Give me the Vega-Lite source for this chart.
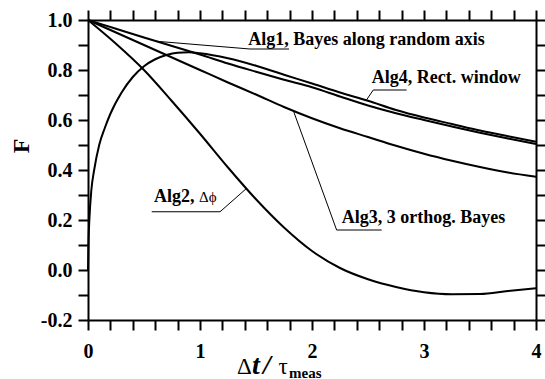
{
  "$schema": "https://vega.github.io/schema/vega-lite/v6.json",
  "width": 448,
  "height": 300,
  "autosize": {"type": "none"},
  "padding": {"left": 88, "top": 20, "right": 9, "bottom": 59},
  "background": "white",
  "config": {"view": {"stroke": null}, "font": "Liberation Serif"},
  "datasets": {
    "curves": [
      {"alg": "Alg1", "x": 0, "y": 1.0}, {"alg": "Alg1", "x": 0.25, "y": 0.965}, {"alg": "Alg1", "x": 0.5, "y": 0.93}, {"alg": "Alg1", "x": 0.75, "y": 0.896}, {"alg": "Alg1", "x": 1.0, "y": 0.862}, {"alg": "Alg1", "x": 1.25, "y": 0.826}, {"alg": "Alg1", "x": 1.5, "y": 0.793}, {"alg": "Alg1", "x": 1.75, "y": 0.761}, {"alg": "Alg1", "x": 2.0, "y": 0.731}, {"alg": "Alg1", "x": 2.25, "y": 0.694}, {"alg": "Alg1", "x": 2.5, "y": 0.658}, {"alg": "Alg1", "x": 2.75, "y": 0.627}, {"alg": "Alg1", "x": 3.0, "y": 0.6}, {"alg": "Alg1", "x": 3.25, "y": 0.574}, {"alg": "Alg1", "x": 3.5, "y": 0.549}, {"alg": "Alg1", "x": 3.75, "y": 0.526}, {"alg": "Alg1", "x": 4.0, "y": 0.504},
      {"alg": "Alg4", "x": 0, "y": 0.0}, {"alg": "Alg4", "x": 0.005, "y": 0.12}, {"alg": "Alg4", "x": 0.012, "y": 0.2}, {"alg": "Alg4", "x": 0.03, "y": 0.32}, {"alg": "Alg4", "x": 0.055, "y": 0.4}, {"alg": "Alg4", "x": 0.1, "y": 0.5}, {"alg": "Alg4", "x": 0.15, "y": 0.568}, {"alg": "Alg4", "x": 0.2, "y": 0.625}, {"alg": "Alg4", "x": 0.3, "y": 0.71}, {"alg": "Alg4", "x": 0.4, "y": 0.772}, {"alg": "Alg4", "x": 0.5, "y": 0.815}, {"alg": "Alg4", "x": 0.6, "y": 0.843}, {"alg": "Alg4", "x": 0.7, "y": 0.86}, {"alg": "Alg4", "x": 0.8, "y": 0.869}, {"alg": "Alg4", "x": 0.9, "y": 0.871}, {"alg": "Alg4", "x": 1.0, "y": 0.867}, {"alg": "Alg4", "x": 1.25, "y": 0.847}, {"alg": "Alg4", "x": 1.5, "y": 0.817}, {"alg": "Alg4", "x": 1.75, "y": 0.781}, {"alg": "Alg4", "x": 2.0, "y": 0.746}, {"alg": "Alg4", "x": 2.25, "y": 0.71}, {"alg": "Alg4", "x": 2.5, "y": 0.677}, {"alg": "Alg4", "x": 2.75, "y": 0.64}, {"alg": "Alg4", "x": 3.0, "y": 0.61}, {"alg": "Alg4", "x": 3.25, "y": 0.584}, {"alg": "Alg4", "x": 3.5, "y": 0.558}, {"alg": "Alg4", "x": 3.75, "y": 0.535}, {"alg": "Alg4", "x": 4.0, "y": 0.513},
      {"alg": "Alg3", "x": 0, "y": 1.0}, {"alg": "Alg3", "x": 0.25, "y": 0.95}, {"alg": "Alg3", "x": 0.5, "y": 0.9}, {"alg": "Alg3", "x": 0.75, "y": 0.85}, {"alg": "Alg3", "x": 1.0, "y": 0.8}, {"alg": "Alg3", "x": 1.25, "y": 0.75}, {"alg": "Alg3", "x": 1.5, "y": 0.702}, {"alg": "Alg3", "x": 1.75, "y": 0.652}, {"alg": "Alg3", "x": 2.0, "y": 0.607}, {"alg": "Alg3", "x": 2.25, "y": 0.567}, {"alg": "Alg3", "x": 2.5, "y": 0.532}, {"alg": "Alg3", "x": 2.75, "y": 0.497}, {"alg": "Alg3", "x": 3.0, "y": 0.465}, {"alg": "Alg3", "x": 3.25, "y": 0.437}, {"alg": "Alg3", "x": 3.5, "y": 0.412}, {"alg": "Alg3", "x": 3.75, "y": 0.39}, {"alg": "Alg3", "x": 4.0, "y": 0.373},
      {"alg": "Alg2", "x": 0, "y": 1.0}, {"alg": "Alg2", "x": 0.25, "y": 0.905}, {"alg": "Alg2", "x": 0.5, "y": 0.8}, {"alg": "Alg2", "x": 0.75, "y": 0.675}, {"alg": "Alg2", "x": 1.0, "y": 0.545}, {"alg": "Alg2", "x": 1.25, "y": 0.41}, {"alg": "Alg2", "x": 1.5, "y": 0.283}, {"alg": "Alg2", "x": 1.75, "y": 0.17}, {"alg": "Alg2", "x": 2.0, "y": 0.076}, {"alg": "Alg2", "x": 2.25, "y": 0.008}, {"alg": "Alg2", "x": 2.5, "y": -0.037}, {"alg": "Alg2", "x": 2.75, "y": -0.068}, {"alg": "Alg2", "x": 3.0, "y": -0.089}, {"alg": "Alg2", "x": 3.25, "y": -0.097}, {"alg": "Alg2", "x": 3.5, "y": -0.096}, {"alg": "Alg2", "x": 3.75, "y": -0.084}, {"alg": "Alg2", "x": 4.0, "y": -0.073}
    ],
    "leaders": [
      {"seg": "L1", "o": 1, "x": 0.61, "y": 0.915}, {"seg": "L1", "o": 2, "x": 1.446, "y": 0.884}, {"seg": "L1", "o": 3, "x": 1.795, "y": 0.884},
      {"seg": "L4", "o": 1, "x": 2.488, "y": 0.681}, {"seg": "L4", "o": 2, "x": 2.547, "y": 0.72}, {"seg": "L4", "o": 3, "x": 2.845, "y": 0.72},
      {"seg": "L3", "o": 1, "x": 1.833, "y": 0.638}, {"seg": "L3", "o": 2, "x": 2.22, "y": 0.16}, {"seg": "L3", "o": 3, "x": 2.622, "y": 0.16},
      {"seg": "L2", "o": 1, "x": 1.417, "y": 0.327}, {"seg": "L2", "o": 2, "x": 1.179, "y": 0.233}, {"seg": "L2", "o": 3, "x": 0.569, "y": 0.233}
    ],
    "labels": [
      {"t": "Alg1, Bayes along random axis", "x": 1.43, "y": 0.902},
      {"t": "Alg4, Rect. window", "x": 2.533, "y": 0.747},
      {"t": "Alg3, 3 orthog. Bayes", "x": 2.265, "y": 0.187},
      {"t": "Alg2,", "x": 0.589, "y": 0.273}
    ],
    "small": [{"t": "Δϕ", "x": 0.991, "y": 0.273}],
    "titleReg": [{"t": "Δ", "x": 1.33, "y": -0.416}, {"t": "τ", "x": 1.70, "y": -0.416}],
    "titleIt": [{"t": "t", "x": 1.464, "y": -0.416}, {"t": "/", "x": 1.5625, "y": -0.416}],
    "titleSub": [{"t": "meas", "x": 1.795, "y": -0.43}],
    "ytitle": [{"t": "F", "x": -0.589, "y": 0.496}]
  },
  "layer": [
    {
      "data": {"name": "curves"},
      "mark": {"type": "line", "color": "black", "strokeWidth": 2, "interpolate": "monotone"},
      "encoding": {
        "x": {"field": "x", "type": "quantitative", "scale": {"domain": [0, 4], "nice": false, "zero": false},
          "axis": {"orient": "bottom", "title": null, "grid": false,
            "values": [0, 0.2, 0.4, 0.6, 0.8, 1, 1.2, 1.4, 1.6, 1.8, 2, 2.2, 2.4, 2.6, 2.8, 3, 3.2, 3.4, 3.6, 3.8, 4],
            "labelExpr": "datum.value % 1 === 0 ? format(datum.value, 'd') : ''",
            "tickSize": 10,
            "encode": {"ticks": {"update": {"y2": {"signal": "datum.value % 1 === 0 ? 10 : 5"}}}},
            "tickWidth": 2, "tickColor": "black", "domainColor": "black", "domainWidth": 2,
            "labelFont": "Liberation Serif", "labelFontWeight": "bold", "labelFontSize": 20, "labelColor": "black", "labelPadding": 11, "labelFlush": false, "labelOverlap": false}},
        "y": {"field": "y", "type": "quantitative", "scale": {"domain": [-0.2, 1.0], "nice": false, "zero": false},
          "axis": {"orient": "left", "title": null, "grid": false,
            "values": [-0.2, -0.1, 0, 0.1, 0.2, 0.3, 0.4, 0.5, 0.6, 0.7, 0.8, 0.9, 1.0],
            "labelExpr": "abs(round(datum.value * 10)) % 2 === 0 ? replace(format(datum.value, '.1f'), '−', '-') : ''",
            "tickSize": 10,
            "encode": {"ticks": {"update": {"x2": {"signal": "abs(round(datum.value * 10)) % 2 === 0 ? -10 : -5"}}}},
            "tickWidth": 2, "tickColor": "black", "domainColor": "black", "domainWidth": 2,
            "labelFont": "Liberation Serif", "labelFontWeight": "bold", "labelFontSize": 20, "labelColor": "black", "labelPadding": 6, "labelFlush": false, "labelOverlap": false}},
        "detail": {"field": "alg"}
      }
    },
    {
      "data": {"name": "leaders"},
      "mark": {"type": "line", "color": "black", "strokeWidth": 1},
      "encoding": {
        "x": {"field": "x", "type": "quantitative",
          "axis": {"orient": "top", "title": null, "grid": false, "labels": false,
            "values": [0, 0.2, 0.4, 0.6, 0.8, 1, 1.2, 1.4, 1.6, 1.8, 2, 2.2, 2.4, 2.6, 2.8, 3, 3.2, 3.4, 3.6, 3.8, 4],
            "tickSize": 10,
            "encode": {"ticks": {"update": {"y2": {"signal": "datum.value % 1 === 0 ? -10 : -5"}}}},
            "tickWidth": 2, "tickColor": "black", "domainColor": "black", "domainWidth": 2}},
        "y": {"field": "y", "type": "quantitative",
          "axis": {"orient": "right", "title": null, "grid": false, "labels": false,
            "values": [-0.2, -0.1, 0, 0.1, 0.2, 0.3, 0.4, 0.5, 0.6, 0.7, 0.8, 0.9, 1.0],
            "tickSize": 10,
            "encode": {"ticks": {"update": {"x2": {"signal": "abs(round(datum.value * 10)) % 2 === 0 ? 10 : 5"}}}},
            "tickWidth": 2, "tickColor": "black", "domainColor": "black", "domainWidth": 2}},
        "detail": {"field": "seg"},
        "order": {"field": "o"}
      }
    },
    {
      "data": {"name": "labels"},
      "mark": {"type": "text", "align": "left", "baseline": "alphabetic", "font": "Liberation Serif", "fontWeight": "bold", "fontSize": 18, "color": "black"},
      "encoding": {
        "x": {"field": "x", "type": "quantitative", "axis": null},
        "y": {"field": "y", "type": "quantitative", "axis": null},
        "text": {"field": "t"}
      }
    },
    {
      "data": {"name": "small"},
      "mark": {"type": "text", "align": "left", "baseline": "alphabetic", "font": "Liberation Serif", "fontSize": 15, "color": "black"},
      "encoding": {
        "x": {"field": "x", "type": "quantitative", "axis": null},
        "y": {"field": "y", "type": "quantitative", "axis": null},
        "text": {"field": "t"}
      }
    },
    {
      "data": {"name": "titleReg"},
      "mark": {"type": "text", "align": "left", "baseline": "alphabetic", "font": "Liberation Serif", "fontSize": 23, "color": "black"},
      "encoding": {
        "x": {"field": "x", "type": "quantitative", "axis": null},
        "y": {"field": "y", "type": "quantitative", "axis": null},
        "text": {"field": "t"}
      }
    },
    {
      "data": {"name": "titleIt"},
      "mark": {"type": "text", "align": "left", "baseline": "alphabetic", "font": "Liberation Serif", "fontSize": 28, "fontWeight": "bold", "fontStyle": "italic", "color": "black"},
      "encoding": {
        "x": {"field": "x", "type": "quantitative", "axis": null},
        "y": {"field": "y", "type": "quantitative", "axis": null},
        "text": {"field": "t"}
      }
    },
    {
      "data": {"name": "titleSub"},
      "mark": {"type": "text", "align": "left", "baseline": "alphabetic", "font": "Liberation Serif", "fontSize": 15, "fontWeight": "bold", "color": "black"},
      "encoding": {
        "x": {"field": "x", "type": "quantitative", "axis": null},
        "y": {"field": "y", "type": "quantitative", "axis": null},
        "text": {"field": "t"}
      }
    },
    {
      "data": {"name": "ytitle"},
      "mark": {"type": "text", "align": "center", "baseline": "middle", "angle": 270, "font": "Liberation Serif", "fontSize": 24, "fontWeight": "bold", "color": "black"},
      "encoding": {
        "x": {"field": "x", "type": "quantitative", "axis": null},
        "y": {"field": "y", "type": "quantitative", "axis": null},
        "text": {"field": "t"}
      }
    }
  ],
  "resolve": {"axis": {"x": "independent", "y": "independent"}}
}
